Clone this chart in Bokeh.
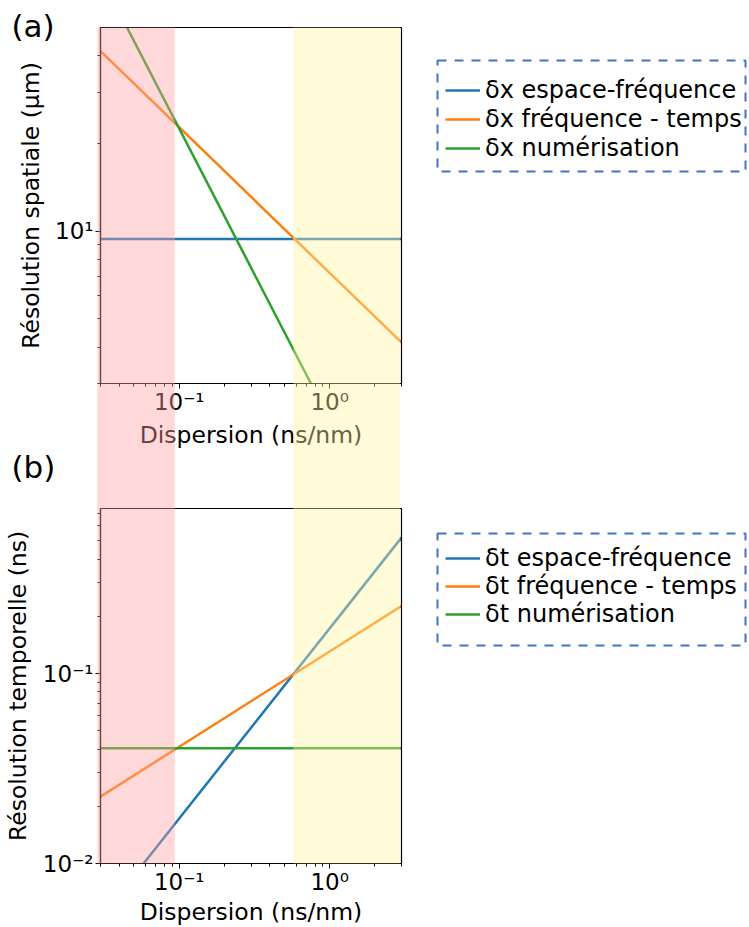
import math
from bokeh.plotting import figure
from bokeh.models import (Range1d, LogScale, LogAxis, FixedTicker, BoxAnnotation,
                          Legend, LegendItem, Label)
from bokeh.embed import file_html
from bokeh.resources import INLINE

# ---------------- data ----------------
# panel (a): spatial resolution (µm) vs dispersion (ns/nm)
x_dx_ef = [0.03, 3.0]
y_dx_ef = [9.4, 9.4]
x_dx_ft = [0.03, 3.0]
y_dx_ft = [41.5, 4.15]
x_dx_num = [0.045, 0.75]
y_dx_num = [50.0, 3.0]

# panel (b): temporal resolution (ns) vs dispersion (ns/nm)
x_dt_ef = [0.058, 3.0]
y_dt_ef = [0.010, 0.52]
x_dt_ft = [0.03, 3.0]
y_dt_ft = [0.0225, 0.227]
x_dt_num = [0.03, 3.0]
y_dt_num = [0.0405, 0.0405]

labels_a = ["δx espace-fréquence", "δx fréquence - temps", "δx numérisation"]
labels_b = ["δt espace-fréquence", "δt fréquence - temps", "δt numérisation"]

x_major = [0.1, 1.0]
x_major_labels = ["10⁻¹", "10⁰"]
x_minor = [0.03, 0.04, 0.05, 0.06, 0.07, 0.08, 0.09,
           0.2, 0.3, 0.4, 0.5, 0.6, 0.7, 0.8, 0.9, 2.0, 3.0]
ya_major = [10.0]
ya_major_labels = ["10¹"]
ya_minor = [3.0, 4.0, 5.0, 6.0, 7.0, 8.0, 9.0, 20.0, 30.0, 40.0]
yb_major = [0.01, 0.1]
yb_major_labels = ["10⁻²", "10⁻¹"]
yb_minor = [0.02, 0.03, 0.04, 0.05, 0.06, 0.07, 0.08, 0.09,
            0.2, 0.3, 0.4, 0.5, 0.6, 0.7]

x_limits = [0.03, 3.0]
ya_limits = [3.0, 50.0]
yb_limits = [0.01, 0.74]

pink_span = [0.0286, 0.0936]
yellow_span = [0.573, 2.93]

# ---------------- layout (page pixels of the reference) ----------------
OX, OY = 0, 0            # page offset of the canvas
W, H = 749, 927          # canvas size
PX_L, PX_R = 100, 401    # panel frames, left / right
A_T, A_B = 27, 383       # panel (a) frame, top / bottom
B_T, B_B = 508, 863      # panel (b) frame, top / bottom

FONT = "DejaVu Sans"
C_BLUE, C_ORANGE, C_GREEN = "#1f77b4", "#ff7f0e", "#2ca02c"
PINK = (255, 160, 160)
YELLOW = (255, 242, 155)
SPAN_ALPHA = 0.4
BOX_BLUE = "#4472C4"


def cx(px):
    return px - OX


def cy(py):
    return py - OY


def up(py):
    """page y -> frame-relative screen y (measured upward from the canvas bottom)"""
    return H - cy(py)


def log_map(v0, p0, v1, p1):
    l0, l1 = math.log10(v0), math.log10(v1)
    k = (l1 - l0) / (p1 - p0)
    return lambda q: 10 ** (l0 + k * (q - p0))


fx = log_map(x_limits[0], cx(PX_L), x_limits[1], cx(PX_R))
fya = log_map(ya_limits[0], cy(A_B), ya_limits[1], cy(A_T))
fyb = log_map(yb_limits[0], cy(B_B), yb_limits[1], cy(B_T))

p = figure(width=W, height=H, x_axis_type="log", y_axis_type="log",
           x_range=Range1d(fx(0), fx(W)), y_range=Range1d(fyb(H), fyb(0)),
           x_axis_location=None, y_axis_location=None,
           min_border=0, min_border_left=0, min_border_right=0,
           min_border_top=0, min_border_bottom=0,
           output_backend="svg", toolbar_location=None,
           background_fill_color="white", border_fill_color="white")
p.extra_y_ranges = {"a": Range1d(fya(H), fya(0))}
p.extra_y_scales = {"a": LogScale()}
p.grid.visible = False
p.outline_line_color = None


def style_axis(ax):
    ax.axis_line_color = "black"
    ax.axis_line_width = 1.2
    ax.major_tick_out = 5
    ax.major_tick_in = 0
    ax.minor_tick_out = 3
    ax.minor_tick_in = 0
    ax.major_tick_line_color = "black"
    ax.minor_tick_line_color = "black"
    ax.major_label_text_font = FONT
    ax.major_label_text_font_size = "23px"
    ax.major_label_text_color = "black"
    ax.axis_label_text_font = FONT
    ax.axis_label_text_font_size = "23.5px"
    ax.axis_label_text_font_style = "normal"
    ax.axis_label_text_color = "black"


def panel(yname, ylim, ymaj, ymaj_lab, ymin, ylabel, series, labels, panel_txt,
          letter_base, leg_top, leg_h, leg_sp, box_tb, xtick_standoff,
          xlab_standoff, ylab_standoff):
    # axes
    xa = LogAxis(ticker=FixedTicker(ticks=x_major, minor_ticks=x_minor),
                 fixed_location=ylim[0], bounds=tuple(x_limits),
                 axis_label="Dispersion (ns/nm)", y_range_name=yname)
    xa.major_label_overrides = dict(zip(x_major, x_major_labels))
    xa.major_label_standoff = xtick_standoff
    xa.axis_label_standoff = xlab_standoff
    ya = LogAxis(ticker=FixedTicker(ticks=ymaj, minor_ticks=ymin),
                 fixed_location=x_limits[0], bounds=tuple(ylim),
                 axis_label=ylabel, y_range_name=yname)
    ya.major_label_overrides = dict(zip(ymaj, ymaj_lab))
    ya.major_label_standoff = 2
    ya.axis_label_standoff = ylab_standoff
    style_axis(xa)
    style_axis(ya)
    p.add_layout(xa, "below")
    p.add_layout(ya, "left")

    # frame box
    p.add_layout(BoxAnnotation(left=x_limits[0], right=x_limits[1],
                               bottom=ylim[0], top=ylim[1], y_range_name=yname,
                               fill_alpha=0, line_color="black", line_alpha=1.0,
                               line_width=1.2))

    # lines
    rs = []
    for (xs, ys), col in zip(series, (C_BLUE, C_ORANGE, C_GREEN)):
        rs.append(p.line(xs, ys, line_color=col, line_width=2.5, y_range_name=yname))

    # legend
    n = len(labels)
    leg_height = n * leg_h + (n - 1) * leg_sp
    legend = Legend(items=[LegendItem(label=l, renderers=[r]) for l, r in zip(labels, rs)],
                    location=(cx(445), H - (cy(leg_top) + leg_height)),
                    orientation="vertical", padding=0, spacing=leg_sp, margin=0,
                    label_height=leg_h, glyph_height=leg_h, glyph_width=35,
                    label_standoff=5, label_text_font=FONT,
                    label_text_font_size="24px", label_text_color="black",
                    border_line_color=None, background_fill_alpha=0)
    p.add_layout(legend)

    # dashed box around legend
    p.add_layout(BoxAnnotation(left=cx(437), right=cx(745), top=up(box_tb[0]),
                               bottom=up(box_tb[1]),
                               left_units="screen", right_units="screen",
                               top_units="screen", bottom_units="screen",
                               fill_alpha=0, line_color=BOX_BLUE, line_alpha=1.0,
                               line_width=2, line_dash="9 8"))

    # panel letter
    p.add_layout(Label(x=cx(11), y=up(letter_base), x_units="screen", y_units="screen",
                       text=panel_txt, text_font=FONT, text_font_size="31px",
                       text_color="black", text_baseline="alphabetic"))


panel("a", ya_limits, ya_major, ya_major_labels, ya_minor, "Résolution spatiale (µm)",
      [(x_dx_ef, y_dx_ef), (x_dx_ft, y_dx_ft), (x_dx_num, y_dx_num)],
      labels_a, "(a)", 25, 76, 28, 1, (60, 171), 0, 3, 7)
panel("default", yb_limits, yb_major, yb_major_labels, yb_minor, "Résolution temporelle (ns)",
      [(x_dt_ef, y_dt_ef), (x_dt_ft, y_dt_ft), (x_dt_num, y_dt_num)],
      labels_b, "(b)", 466, 544.3, 28, 0, (533, 645), 0, 0, 8)

# shaded dispersion ranges, spanning both panels
for span, colr in ((pink_span, PINK), (yellow_span, YELLOW)):
    p.add_layout(BoxAnnotation(left=span[0], right=span[1],
                               top=ya_limits[1], bottom=fya(cy(B_B)), y_range_name="a",
                               fill_color=colr, fill_alpha=SPAN_ALPHA, line_color=None))

open("out.html", "w").write(file_html(p, INLINE))
